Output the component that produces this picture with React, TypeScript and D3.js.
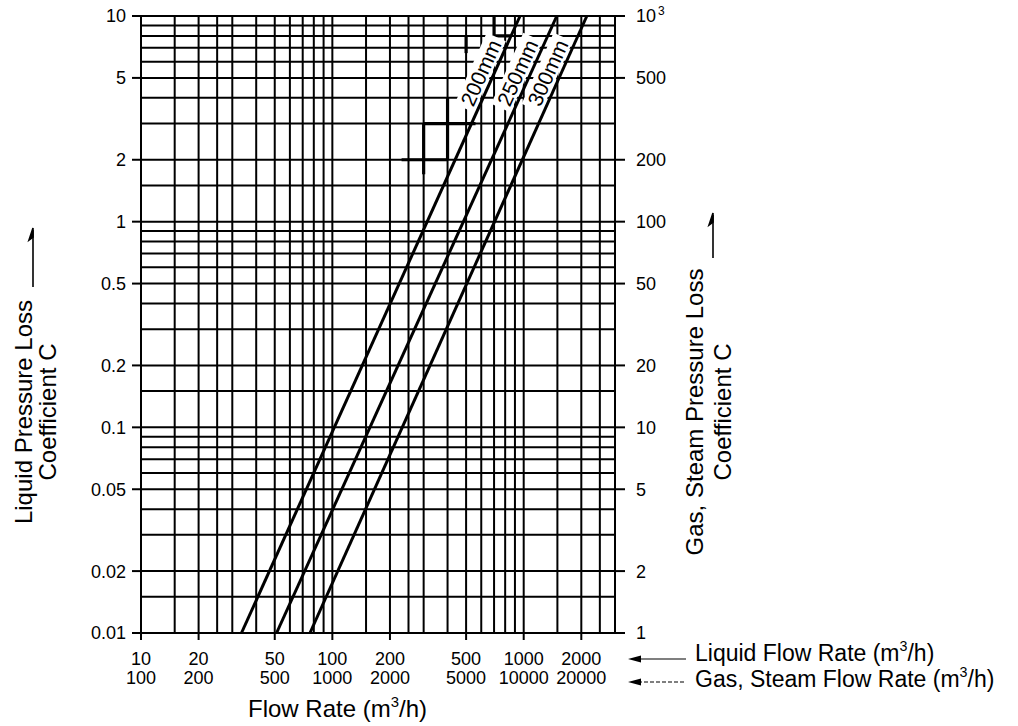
import React, { useEffect } from "react";
import * as d3 from "d3";

// Axis tick values
const liquidFlowTicks = [10, 20, 50, 100, 200, 500, 1000, 2000];
const gasFlowTicks = [100, 200, 500, 1000, 2000, 5000, 10000, 20000];
const liquidCTicks = [10, 5, 2, 1, 0.5, 0.2, 0.1, 0.05, 0.02, 0.01];
const gasCTicks = [1000, 500, 200, 100, 50, 20, 10, 5, 2, 1];

// Grid subdivisions inside each decade
const xGridMantissas = [1, 1.5, 2, 2.5, 3, 4, 5, 6, 7, 8, 9];
const yGridMantissas = [1, 1.5, 2, 3, 4, 5, 6, 7, 8, 9];

// Nominal sizes and their characteristic lines (liquid flow at the C limits)
const sizes = ["200mm", "250mm", "300mm"];
const flowAtLowC = [33.5, 51.1, 76.4]; // liquid flow (m3/h) where C = 0.01
const flowAtHighC = [957, 1489, 2138]; // liquid flow (m3/h) where C = 10
const cLow = 0.01;
const cHigh = 10;

// Thick leader strokes drawn over the grid, as [flow, C] vertices
const leaderMarks: [number, number][][] = [
  [[300, 3], [560, 3]],
  [[300, 3], [300, 1.7]],
  [[230, 2], [400, 2]],
  [[400, 2], [400, 4]],
  [[500, 8], [500, 6.6]],
  [[700, 10], [700, 8], [850, 8]],
];

const W = 1018;
const H = 726;
const X0 = 141;
const X1 = 615;
const Y0 = 16;
const Y1 = 633;
const FONT = "'Liberation Sans', Arial, Helvetica, sans-serif";

export default function App() {
  useEffect(() => {
    document.body.style.margin = "0";
  }, []);

  const x = d3.scaleLog().domain([10, 3000]).range([X0, X1]);
  const y = d3.scaleLog().domain([0.01, 10]).range([Y1, Y0]);
  const yGas = d3.scaleLog().domain([1, 1000]).range([Y1, Y0]);

  const xGrid: number[] = [];
  for (let e = 1; e <= 3; e++) {
    for (const m of xGridMantissas) {
      const v = m * Math.pow(10, e);
      if (v >= 10 && v <= 3000 * 1.0001) xGrid.push(v);
    }
  }
  const yGrid: number[] = [];
  for (let e = -2; e <= 1; e++) {
    for (const m of yGridMantissas) {
      const v = m * Math.pow(10, e);
      if (v >= 0.01 * 0.9999 && v <= 10.0001) yGrid.push(v);
    }
  }

  const line = d3
    .line<[number, number]>()
    .x((d) => x(d[0]))
    .y((d) => y(d[1]));

  const flowAt = (i: number, c: number) => {
    const t = (Math.log10(c) - Math.log10(cLow)) / (Math.log10(cHigh) - Math.log10(cLow));
    return Math.pow(10, Math.log10(flowAtLowC[i]) + t * (Math.log10(flowAtHighC[i]) - Math.log10(flowAtLowC[i])));
  };

  const sup = (fs: number) => (
    <>
      <tspan dy={-fs * 0.42} fontSize={fs * 0.62}>3</tspan>
      <tspan dy={fs * 0.42}>/h)</tspan>
    </>
  );

  return (
    <svg width={W} height={H} style={{ position: "absolute", left: 0, top: 0, background: "#fff" }} fontFamily={FONT}>
      <rect x={0} y={0} width={W} height={H} fill="#fff" />
      {/* grid */}
      <g stroke="#000" strokeWidth={2}>
        {xGrid.map((v) => (
          <line key={"gx" + v} x1={x(v)} x2={x(v)} y1={Y0} y2={Y1} />
        ))}
        {yGrid.map((v) => (
          <line key={"gy" + v} x1={X0} x2={X1} y1={y(v)} y2={y(v)} />
        ))}
        {/* tick stubs */}
        {liquidFlowTicks.map((v) => (
          <line key={"tb" + v} x1={x(v)} x2={x(v)} y1={Y1} y2={Y1 + 7} />
        ))}
        {liquidCTicks.map((v) => (
          <line key={"tl" + v} x1={X0 - 9} x2={X0} y1={y(v)} y2={y(v)} />
        ))}
        {gasCTicks.map((v) => (
          <line key={"tr" + v} x1={X1} x2={X1 + 10} y1={yGas(v)} y2={yGas(v)} />
        ))}
      </g>

      {/* leader strokes */}
      <g stroke="#000" strokeWidth={3.2} fill="none">
        {leaderMarks.map((pts, i) => (
          <path key={"ld" + i} d={line(pts) || ""} />
        ))}
      </g>

      {/* size lines */}
      <g stroke="#000" strokeWidth={3} fill="none">
        {sizes.map((s, i) => (
          <path key={s} d={line([[flowAtLowC[i], cLow], [flowAtHighC[i], cHigh]]) || ""} />
        ))}
      </g>

      {/* size labels */}
      {sizes.map((s, i) => {
        const c = 5;
        const px = x(flowAt(i, c));
        const py = y(c);
        const ax = x(flowAtHighC[i]) - x(flowAtLowC[i]);
        const ay = y(cHigh) - y(cLow);
        const ang = Math.atan2(ay, ax);
        const deg = (ang * 180) / Math.PI;
        const nx = Math.sin(ang);
        const ny = -Math.cos(ang);
        const d = 12.5;
        const cx = px + nx * d;
        const cy = py + ny * d;
        const fs = 21;
        const tw = 70;
        return (
          <g key={"lab" + s} transform={`translate(${cx},${cy}) rotate(${deg})`}>
            <rect x={-tw / 2 - 4} y={-11} width={tw + 8} height={21} fill="#fff" />
            <text textAnchor="middle" dy="0.36em" fontSize={fs} fill="#000">
              {s}
            </text>
          </g>
        );
      })}

      {/* left axis labels */}
      <g fontSize={18} fill="#000" textAnchor="end">
        {liquidCTicks.map((v) => (
          <text key={"ll" + v} x={X0 - 15} y={y(v)} dy="0.36em">
            {String(v)}
          </text>
        ))}
      </g>
      {/* right axis labels */}
      <g fontSize={18} fill="#000" textAnchor="start">
        {gasCTicks.map((v) =>
          v === 1000 ? (
            <text key={"rl" + v} x={X1 + 21} y={yGas(v)} dy="0.36em">
              10
              <tspan dx={2} dy={-7} fontSize={12}>
                3
              </tspan>
            </text>
          ) : (
            <text key={"rl" + v} x={X1 + 21} y={yGas(v)} dy="0.36em">
              {String(v)}
            </text>
          )
        )}
      </g>
      {/* bottom axis labels */}
      <g fontSize={18} fill="#000" textAnchor="middle">
        {liquidFlowTicks.map((v) => (
          <text key={"bl" + v} x={x(v)} y={665}>
            {String(v)}
          </text>
        ))}
        {gasFlowTicks.map((v, i) => (
          <text key={"bg" + v} x={x(liquidFlowTicks[i])} y={684}>
            {String(v)}
          </text>
        ))}
      </g>

      {/* axis titles */}
      <text x={248} y={717} fontSize={24} fill="#000">
        Flow Rate (m{sup(24)}
      </text>
      <text x={695} y={661} fontSize={23} fill="#000">
        Liquid Flow Rate (m{sup(23)}
      </text>
      <text x={695} y={687} fontSize={23} fill="#000">
        Gas, Steam Flow Rate (m{sup(23)}
      </text>

      <g fontSize={24} fill="#000" textAnchor="middle">
        <text transform="translate(32,412) rotate(-90)">Liquid Pressure Loss</text>
        <text transform="translate(56,412) rotate(-90)">Coefficient C</text>
        <text transform="translate(703,412) rotate(-90)">Gas, Steam Pressure Loss</text>
        <text transform="translate(731,412) rotate(-90)">Coefficient C</text>
      </g>

      {/* direction arrows */}
      <g stroke="#000" strokeWidth={1.6} fill="#000">
        <line x1={33} y1={230} x2={33} y2={287} />
        <path d="M33,228 L29,240 L33,237 Z" />
        <line x1={713} y1={215} x2={713} y2={258} />
        <path d="M713,213 L709,225 L713,222 Z" />
        <line x1={638} y1={659} x2={686} y2={659} strokeWidth={1.2} />
        <path d="M628,659 L641,655.5 L641,662.5 Z" stroke="none" />
        <line x1={638} y1={682} x2={686} y2={682} strokeWidth={1.2} strokeDasharray="4 2" />
        <path d="M628,682 L641,678.5 L641,685.5 Z" stroke="none" />
      </g>
    </svg>
  );
}
